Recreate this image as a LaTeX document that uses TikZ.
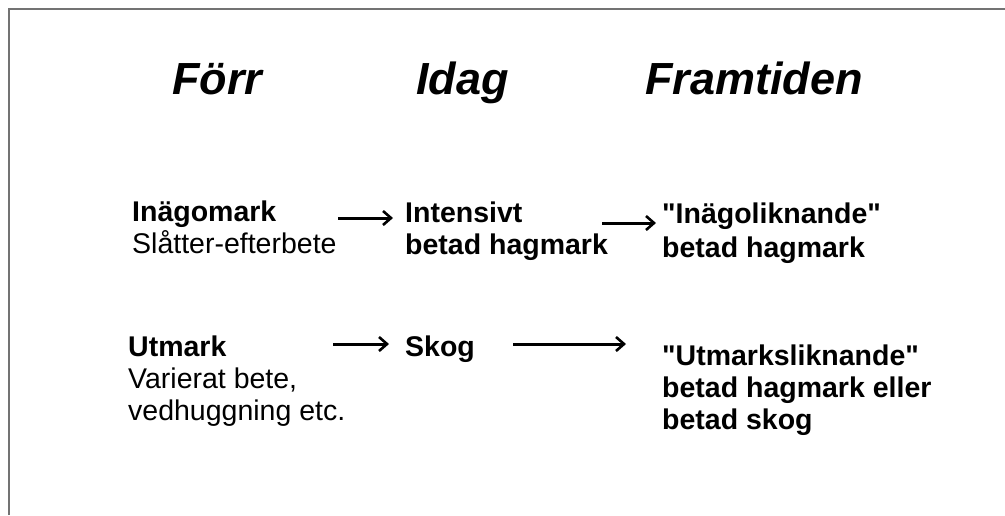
\documentclass[tikz,border=0pt]{standalone}
\usepackage{fontspec}
\setmainfont{Liberation Sans}
\usetikzlibrary{arrows.meta}
\begin{document}
\begin{tikzpicture}[x=1pt,y=-1pt,
  plaintxt/.style={anchor=base west, inner sep=0pt, font=\fontsize{28.5}{32}\selectfont},
  boldtxt/.style={anchor=base west, inner sep=0pt, font=\fontsize{28.5}{32}\selectfont\bfseries},
  headtxt/.style={anchor=base west, inner sep=0pt, font=\fontsize{45}{52}\selectfont\bfseries\itshape},
  arr/.style={line width=3pt, -{Straight Barb[length=8pt,width=14pt,line width=2.6pt]}},
  framestyle/.style={draw=black!55, line width=2pt}]
\useasboundingbox (0,0) rectangle (1005,515);
% frame along the top and left edges
\draw[framestyle] (9,515) -- (9,9) -- (1005,9);

% column headings
\node[headtxt] (forr) at (172,94) {Förr};
\node[headtxt] (idag) at (416,94) {Idag};
\node[headtxt] (framtid) at (645,94) {Framtiden};

% first row
\node[boldtxt]  (inago)  at (132,221) {Inägomark};
\node[plaintxt] (slatter) at (132,253) {Slåtter-efterbete};
\node[boldtxt]  (intens) at (405,222) {Intensivt};
\node[boldtxt]  (hagm)   at (405,254) {betad hagmark};
\node[boldtxt]  (inlikn) at (662,223) {\textquotedbl Inägoliknande\textquotedbl};
\node[boldtxt]  (hagm2)  at (662,257) {betad hagmark};

% second row
\node[boldtxt]  (utmark) at (128,356) {Utmark};
\node[plaintxt] (varier) at (128,388) {Varierat bete,};
\node[plaintxt] (vedh)   at (128,420) {vedhuggning etc.};
\node[boldtxt]  (skog)   at (405,356) {Skog};
\node[boldtxt]  (utlikn) at (662,365) {\textquotedbl Utmarksliknande\textquotedbl};
\node[boldtxt]  (eller)  at (662,397) {betad hagmark eller};
\node[boldtxt]  (bskog)  at (662,429) {betad skog};

% arrow end points
\coordinate (a1s) at (338,218);
\coordinate (a1e) at (393,218);
\coordinate (a2s) at (602,223);
\coordinate (a2e) at (656,223);
\coordinate (b1s) at (333,344);
\coordinate (b1e) at (389,344);
\coordinate (b2s) at (513,344);
\coordinate (b2e) at (626,344);

\draw[arr] (a1s) -- (a1e);
\draw[arr] (a2s) -- (a2e);
\draw[arr] (b1s) -- (b1e);
\draw[arr] (b2s) -- (b2e);
\end{tikzpicture}
\end{document}
